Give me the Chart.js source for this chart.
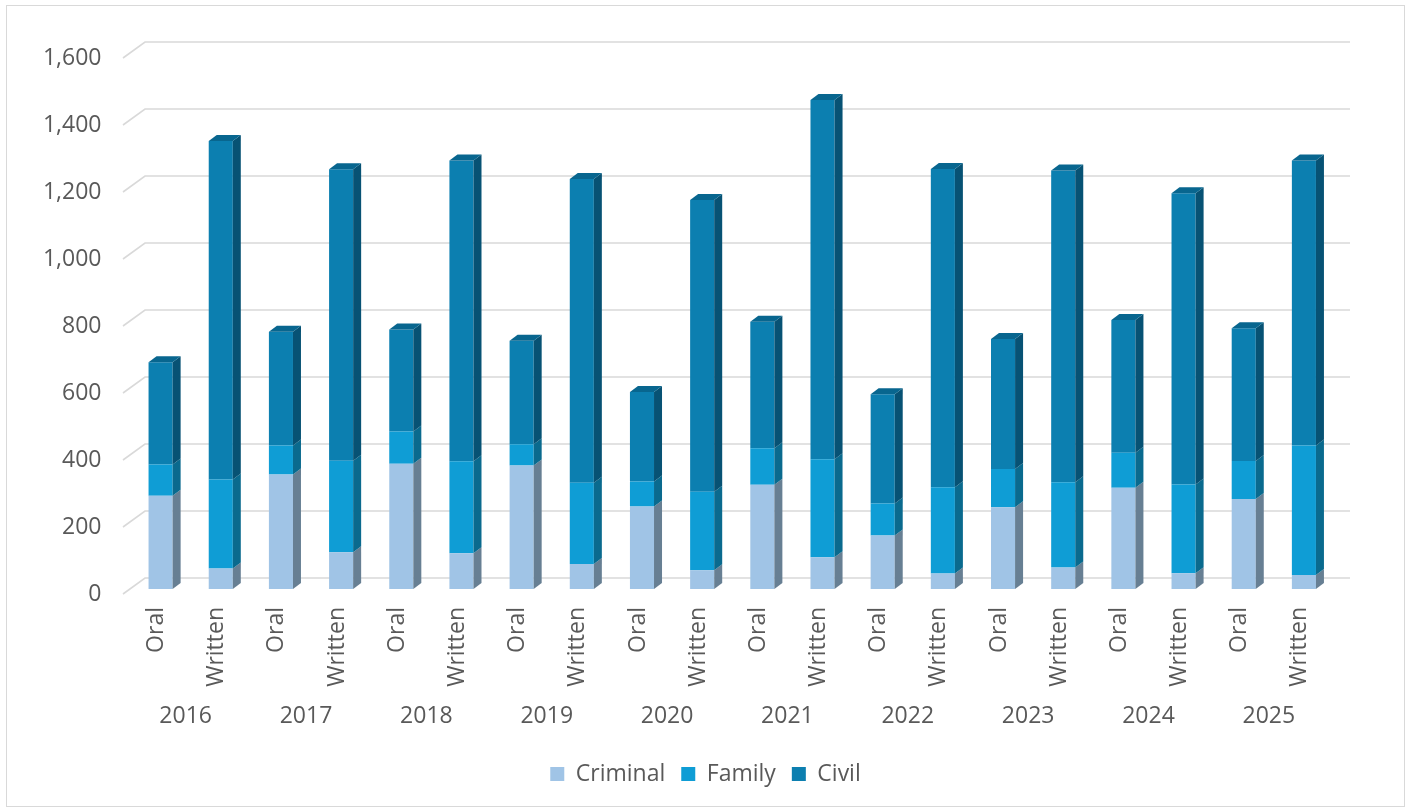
<!DOCTYPE html>
<html>
<head>
<meta charset="utf-8">
<script src="https://cdn.jsdelivr.net/npm/chart.js@4.4.1/dist/chart.umd.min.js"></script>
<style>
  html, body { margin: 0; padding: 0; background: #ffffff; }
  #wrap { position: relative; width: 1411px; height: 811px; }
  #frame { position: absolute; left: 6px; top: 5px; width: 1399px; height: 802px; border: 1.5px solid #d9d9d9; box-sizing: border-box; pointer-events: none; }
  canvas { position: absolute; left: 0; top: 0; }
</style>
</head>
<body>
<div id="wrap">
  <canvas id="chart" width="1411" height="811"></canvas>
  <div id="frame"></div>
</div>
<script>
const years = ['2016', '2017', '2018', '2019', '2020', '2021', '2022', '2023', '2024', '2025'];
const sessions = ['Oral', 'Written'];

// Oral / Written pairs, one pair per year
const criminal = [278, 61, 342, 110, 374, 107, 369, 75, 246, 56, 311, 95, 160, 46, 244, 64, 302, 47, 269, 42];
const family = [94, 266, 86, 273, 96, 274, 63, 242, 75, 234, 109, 292, 95, 258, 114, 255, 105, 265, 113, 386];
const civil = [305, 1010, 340, 870, 305, 898, 309, 907, 267, 871, 378, 1073, 326, 950, 388, 930, 396, 869, 396, 851];

const yTicks = [0, 200, 400, 600, 800, 1000, 1200, 1400, 1600];

const xLabels = years.flatMap(() => sessions);

const FONT = "'Open Sans', sans-serif";
const FONT_SIZE = 23;
const TEXT = '#595959';
const depthX = 8;
const depthY = 6;
const sideColors = ['#677f93', '#0a6a8e', '#075274'];
const topColor = '#08668f';

// back wall gridlines with the little diagonal to the tick labels
const wallGrid = {
  id: 'wallGrid',
  beforeDatasetsDraw(chart) {
    const { ctx, chartArea, scales } = chart;
    ctx.save();
    ctx.strokeStyle = '#d9d9d9';
    ctx.lineWidth = 1.6;
    yTicks.forEach((value) => {
      const py = scales.y.getPixelForValue(value);
      ctx.beginPath();
      ctx.moveTo(chartArea.left - 7.5, py + 5);
      ctx.lineTo(chartArea.left + 14.5, py - 11);
      ctx.lineTo(chartArea.right + 16, py - 11);
      ctx.stroke();
    });
    ctx.restore();
  },
};

// fake 3d: side face for every segment, top face on the last one
const bars3d = {
  id: 'bars3d',
  afterDatasetsDraw(chart) {
    const ctx = chart.ctx;
    const count = chart.data.datasets.length;
    ctx.save();
    for (let d = 0; d < count; d++) {
      const meta = chart.getDatasetMeta(d);
      meta.data.forEach((bar) => {
        const { x, y, base, width } = bar.getProps(['x', 'y', 'base', 'width'], true);
        const left = x - width / 2;
        const right = x + width / 2;
        ctx.fillStyle = sideColors[d];
        ctx.beginPath();
        ctx.moveTo(right, y);
        ctx.lineTo(right + depthX, y - depthY);
        ctx.lineTo(right + depthX, base - depthY);
        ctx.lineTo(right, base);
        ctx.closePath();
        ctx.fill();
        if (d === count - 1) {
          ctx.fillStyle = topColor;
          ctx.beginPath();
          ctx.moveTo(left, y);
          ctx.lineTo(left + depthX, y - depthY);
          ctx.lineTo(right + depthX, y - depthY);
          ctx.lineTo(right, y);
          ctx.closePath();
          ctx.fill();
        }
      });
    }
    ctx.restore();
  },
};

const barStyle = {
  barPercentage: 0.4,
  categoryPercentage: 1.0,
  borderWidth: 0,
};

new Chart(document.getElementById('chart'), {
  type: 'bar',
  data: {
    labels: xLabels,
    datasets: [
      { label: 'Criminal', data: criminal, backgroundColor: '#a0c4e6', ...barStyle },
      { label: 'Family', data: family, backgroundColor: '#0f9dd5', ...barStyle },
      { label: 'Civil', data: civil, backgroundColor: '#0c7fb0', ...barStyle },
    ],
  },
  plugins: [wallGrid, bars3d],
  options: {
    responsive: false,
    animation: false,
    layout: {
      padding: { top: 53, right: 0, bottom: 15.5, left: 0 },
    },
    plugins: {
      legend: {
        position: 'bottom',
        labels: {
          boxWidth: 14,
          boxHeight: 14,
          padding: 16,
          color: TEXT,
          font: { family: FONT, size: FONT_SIZE },
        },
      },
      tooltip: { enabled: true },
    },
    scales: {
      x: {
        stacked: true,
        weight: 0,
        grid: { display: false, drawTicks: false },
        border: { display: false },
        ticks: {
          autoSkip: false,
          minRotation: 90,
          maxRotation: 90,
          padding: 18,
          labelOffset: -4,
          color: TEXT,
          font: { family: FONT, size: FONT_SIZE },
        },
        afterFit(scale) {
          scale.height = 114;
        },
      },
      x2: {
        type: 'category',
        labels: years,
        position: 'bottom',
        offset: true,
        weight: 1,
        grid: { display: false, drawTicks: false },
        border: { display: false },
        ticks: {
          padding: 0,
          labelOffset: -5,
          color: TEXT,
          font: { family: FONT, size: FONT_SIZE },
        },
        afterFit(scale) {
          scale.height = 43.5;
        },
      },
      y: {
        stacked: true,
        min: 0,
        max: 1600,
        grid: { display: false, drawTicks: false },
        border: { display: false },
        afterBuildTicks(scale) {
          scale.ticks = yTicks.map((value) => ({ value }));
        },
        ticks: {
          padding: 29,
          labelOffset: 5,
          color: TEXT,
          font: { family: FONT, size: FONT_SIZE },
          callback(value) {
            return Number(value).toLocaleString('en-US');
          },
        },
        afterFit(scale) {
          scale.width = 130.5;
        },
      },
      // empty right-hand axis, only reserves the space to the right of the bars
      yRight: {
        type: 'linear',
        position: 'right',
        grid: { display: false, drawTicks: false },
        border: { display: false },
        ticks: { display: false },
        afterFit(scale) {
          scale.width = 77;
        },
      },
    },
  },
});
</script>
</body>
</html>
